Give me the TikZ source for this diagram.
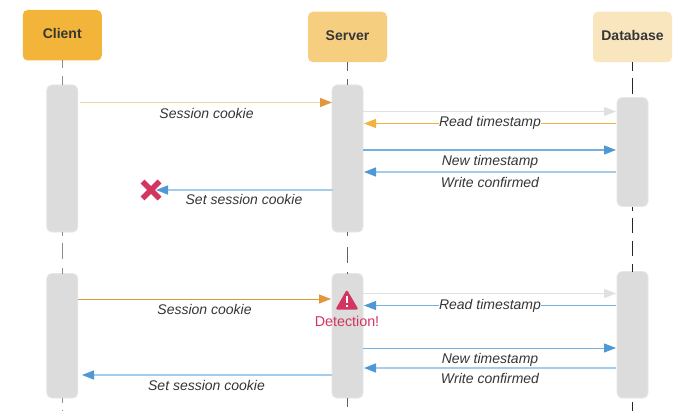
\documentclass[tikz,border=0pt]{standalone}
\usepackage{fontspec}
\setmainfont{Liberation Sans}
\usetikzlibrary{arrows.meta,shapes.misc}
\definecolor{txt}{HTML}{363636}
\definecolor{clientc}{HTML}{F2B53A}
\definecolor{serverc}{HTML}{F5CF7F}
\definecolor{dbc}{HTML}{F9E6BF}
\definecolor{actc}{HTML}{DCDCDC}
\definecolor{actb}{HTML}{E6E6E6}
\definecolor{orangeh}{HTML}{E2983A}
\definecolor{orangel}{HTML}{F0D4A8}
\definecolor{yell}{HTML}{F2B33D}
\definecolor{blueh}{HTML}{4F98D5}
\definecolor{bluel}{HTML}{A5CDEB}
\definecolor{blue2}{HTML}{74B0E0}
\definecolor{grayl}{HTML}{E0E0E0}
\definecolor{redc}{HTML}{D13560}
\tikzset{
  head/.style={draw=none,rounded corners=5pt,minimum width=79pt,minimum height=50.5pt,inner sep=0pt,outer sep=0pt,text=txt,font=\fontsize{14}{16}\selectfont\bfseries,text depth=3pt,text height=10pt},
  act/.style={draw=actb,line width=.8pt,fill=actc,rounded corners=5pt,minimum width=31pt,inner sep=0pt,outer sep=0pt},
  msg/.style={font=\fontsize{14}{16}\selectfont\itshape,text=txt,inner sep=0pt,anchor=base},
  mid/.style={font=\fontsize{14}{16}\selectfont\itshape,text=txt,fill=white,inner ysep=1pt,inner xsep=0pt,text height=10pt,text depth=3pt},
  lifeC/.style={line width=1.4pt,draw=black!45},
  lifeS/.style={line width=1pt,draw=black!62},
  lifeD/.style={line width=1pt,draw=black!85},
  arr/.style n args={2}{draw=#1,line width=1.3pt,-{Triangle[length=12pt,width=9pt,fill=#2,color=#2]}},
}
\begin{document}
\begin{tikzpicture}[x=1pt,y=-1pt]
\useasboundingbox[fill=white] (0,0) rectangle (694,420);
% heads
\node[head,fill=clientc] (hc) at (62.25,35.25) {Client};
\node[head,fill=serverc] (hs) at (347.5,37) {Server};
\node[head,fill=dbc] (hd) at (632.5,37) {Database};
% activations
\node[act,minimum height=147pt] (c1) at (62.25,158.5) {};
\node[act,minimum height=147pt] (s1) at (347.5,158.5) {};
\node[act,minimum height=109pt] (d1) at (632.5,152) {};
\node[act,minimum height=124.5pt] (c2) at (62.25,335.75) {};
\node[act,minimum height=124.5pt] (s2) at (347.5,335.75) {};
\node[act,minimum height=126.5pt] (d2) at (632.5,334.75) {};
% lifelines
\coordinate (cend) at (62.25,411);
\coordinate (send) at (347.5,407);
\coordinate (dend) at (632.5,411);
\draw[lifeC,dash pattern=on 7.5pt off 8.5pt on 10pt] (hc.south) -- (c1.north);
\draw[lifeC,dash pattern=on 3.5pt off 7.5pt on 16pt off 9pt on 8pt] (c1.south) -- (c2.north);
\draw[lifeC,dash pattern=on 5pt off 7pt on 2pt] (c2.south) -- (cend);
\draw[lifeS,dash pattern=on 9pt off 8pt on 10pt] (hs.south) -- (s1.north);
\draw[lifeS,dash pattern=on 4pt off 11pt on 16pt off 9pt on 3pt] (s1.south) -- (s2.north);
\draw[lifeS] (s2.south) -- (send);
\draw[lifeD,dash pattern=on 9pt off 7pt on 15.5pt] (hd.south) -- (d1.north);
\draw[lifeD,dash pattern=on 4pt off 7pt on 15pt off 8pt on 15pt off 8pt on 9pt] (d1.south) -- (d2.north);
\draw[lifeD,dash pattern=on 0pt off 4pt on 10pt] (d2.south) -- (dend);
% top round: Client -> Server
\coordinate (a1s) at (80,102.5); \coordinate (a1e) at (332,102.5);
\draw[arr={orangel}{orangeh},line width=1.6pt] (a1s) -- (a1e);
\node[msg] (l1) at (206.5,118) {Session cookie};
% reads
\coordinate (a2s) at (363,111.5); \coordinate (a2e) at (616,111.5);
\draw[arr={grayl}{grayl}] (a2s) -- (a2e);
\coordinate (a3s) at (616,123.5); \coordinate (a3e) at (364,123.5);
\draw[arr={yell}{yell},line width=1pt] (a3s) -- node[mid] (l3) {Read timestamp} (a3e);
\coordinate (a4s) at (363,150); \coordinate (a4e) at (616,150);
\draw[arr={blue2}{blueh}] (a4s) -- (a4e);
\node[msg] (l4) at (490,165.3) {New timestamp};
\coordinate (a5s) at (616,172); \coordinate (a5e) at (364,172);
\draw[arr={bluel}{blueh},line width=1.5pt] (a5s) -- (a5e);
\node[msg] (l5) at (490,187) {Write confirmed};
% blocked response
\node[cross out,draw=redc,line width=5.5pt,minimum size=17pt,inner sep=0pt,outer sep=0pt] (x) at (151,190) {};
\coordinate (a6s) at (333,190); \coordinate (a6e) at (156,190);
\draw[arr={bluel}{blueh},line width=1.5pt] (a6s) -- (a6e);
\node[msg] (l6) at (244,204.7) {Set session cookie};
% second round
\coordinate (b1s) at (78,299); \coordinate (b1e) at (331,299);
\draw[arr={orangeh}{orangeh},line width=1pt] (b1s) -- (b1e);
\node[msg] (m1) at (204.5,314.3) {Session cookie};
\coordinate (b2s) at (363,293.5); \coordinate (b2e) at (616,293.5);
\draw[arr={grayl}{grayl}] (b2s) -- (b2e);
\coordinate (b3s) at (616,305.5); \coordinate (b3e) at (364,305.5);
\draw[arr={blue2}{blueh},line width=1pt] (b3s) -- node[mid] (m3) {Read timestamp} (b3e);
\coordinate (b4s) at (363,348); \coordinate (b4e) at (616,348);
\draw[arr={blue2}{blueh},line width=1pt] (b4s) -- (b4e);
\node[msg] (m4) at (490,363.3) {New timestamp};
\coordinate (b5s) at (616,368); \coordinate (b5e) at (364,368);
\draw[arr={bluel}{blueh},line width=1.5pt] (b5s) -- (b5e);
\node[msg] (m5) at (490,383) {Write confirmed};
\coordinate (b6s) at (332,375); \coordinate (b6e) at (82,375);
\draw[arr={bluel}{blueh},line width=1.5pt] (b6s) -- (b6e);
\node[msg] (m6) at (206.5,390) {Set session cookie};
% warning
\fill[redc,rounded corners=1.5pt] (346.8,289.5) -- (358.5,309.5) -- (335.5,309.5) -- cycle;
\fill[white] (345.6,296) rectangle (348.2,303);
\fill[white] (345.6,304.8) rectangle (348.2,307.4);
\node[font=\fontsize{14.3}{16}\selectfont,text=redc,inner sep=0pt] (det) at (347,321.5) {Detection!};
\end{tikzpicture}
\end{document}
